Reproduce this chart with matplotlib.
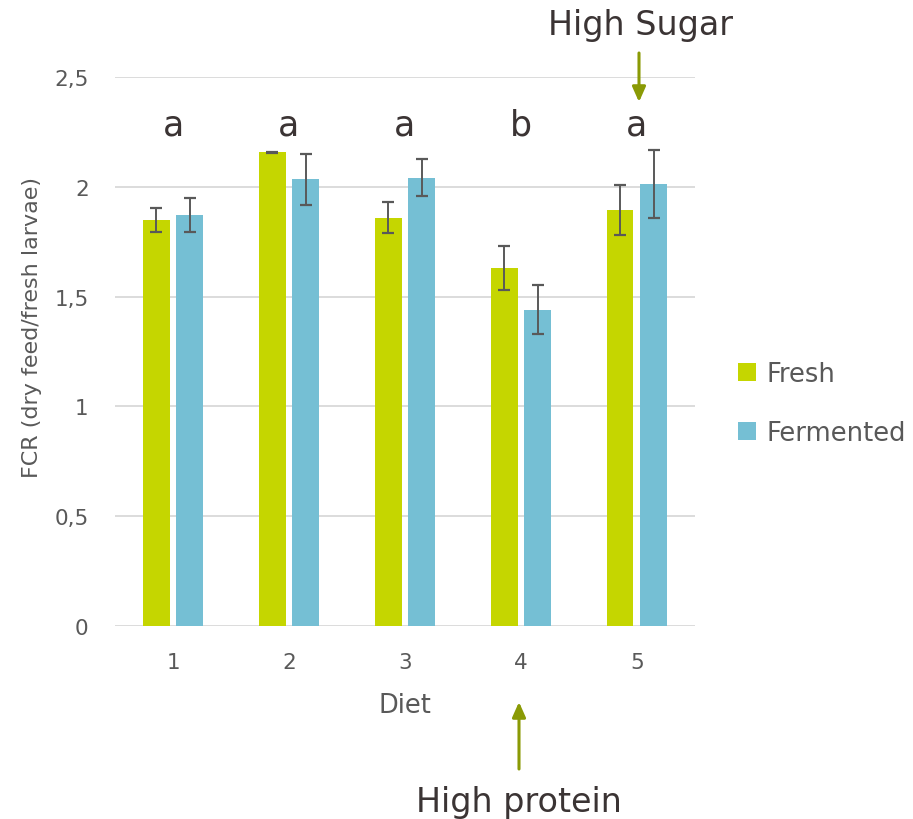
import numpy as np
import matplotlib.pyplot as plt

# FCR per diet, fresh vs fermented feed (mean and error)
diets = ["1", "2", "3", "4", "5"]
fresh = [1.85, 2.157, 1.86, 1.63, 1.895]
fresh_err = [0.055, 0.002, 0.07, 0.10, 0.115]
fermented = [1.873, 2.034, 2.042, 1.441, 2.013]
fermented_err = [0.078, 0.115, 0.085, 0.11, 0.155]
groups = ["a", "a", "a", "b", "a"]
yticks = [0, 0.5, 1, 1.5, 2, 2.5]
ytick_labels = ["0", "0,5", "1", "1,5", "2", "2,5"]

GREEN = "#c5d600"
BLUE = "#75bfd4"
ARROW = "#8a9a05"
GREY = "#595959"
DARK = "#3b3434"

plt.rcParams["font.family"] = "DejaVu Sans"

fig = plt.figure(figsize=(9.13, 8.2), dpi=100)
ax = fig.add_axes([0.126, 0.2354, 0.635, 0.6695])

x = np.arange(1, len(diets) + 1)
w = 0.232
off = 0.145
ax.bar(x - off, fresh, w, color=GREEN, label="Fresh", zorder=2)
ax.bar(x + off, fermented, w, color=BLUE, label="Fermented", zorder=2)
ax.errorbar(x - off, fresh, yerr=fresh_err, fmt="none", ecolor=GREY,
            elinewidth=1.4, capsize=4.3, capthick=1.6, zorder=3)
ax.errorbar(x + off, fermented, yerr=fermented_err, fmt="none", ecolor=GREY,
            elinewidth=1.4, capsize=4.3, capthick=1.6, zorder=3)

ax.set_xlim(0.5, 5.5)
ax.set_ylim(0, 2.5)
ax.set_yticks(yticks)
ax.set_yticklabels(ytick_labels)
ax.set_xticks(x)
ax.set_xticklabels(diets)
ax.yaxis.grid(True, color="#d9d9d9", lw=1.3, zorder=0)
ax.set_axisbelow(True)
for s in ax.spines.values():
    s.set_visible(False)
ax.tick_params(length=0, labelsize=15.5, colors=GREY)
ax.tick_params(axis="y", pad=19)
ax.tick_params(axis="x", pad=19)

ax.set_xlabel("Diet", fontsize=18.5, color=GREY, labelpad=14)
ax.set_ylabel("FCR (dry feed/fresh larvae)", fontsize=16, color=GREY)
ax.yaxis.set_label_coords(-0.126, 0.546)

# significance letters over each diet
for xi, g in zip(x, groups):
    ax.text(xi, 2.24, g, ha="center", va="baseline", fontsize=25,
            color=DARK, clip_on=False)

ax.legend(loc="center left", bbox_to_anchor=(1.035, 0.405), frameon=False,
          fontsize=18.5, handlelength=0.7, handleheight=0.7,
          handletextpad=0.4, labelspacing=1.3, labelcolor=GREY)

# callouts for the two special diets
arrow = dict(arrowstyle="-|>,head_length=0.9,head_width=0.4",
             color=ARROW, lw=2.2, shrinkA=0, shrinkB=0)

fig.text(640 / 913, 1 - 35 / 820, "High Sugar", ha="center", va="baseline",
         fontsize=24, color=DARK)
ax.annotate("", xy=(639 / 913, 1 - 103 / 820), xycoords="figure fraction",
            xytext=(639 / 913, 1 - 54 / 820), textcoords="figure fraction",
            arrowprops=arrow, annotation_clip=False)

fig.text(519 / 913, 1 - 812 / 820, "High protein", ha="center", va="baseline",
         fontsize=24, color=DARK)
ax.annotate("", xy=(519 / 913, 1 - 703 / 820), xycoords="figure fraction",
            xytext=(519 / 913, 1 - 770 / 820), textcoords="figure fraction",
            arrowprops=arrow, annotation_clip=False)

fig.savefig("out.png", dpi=100)
